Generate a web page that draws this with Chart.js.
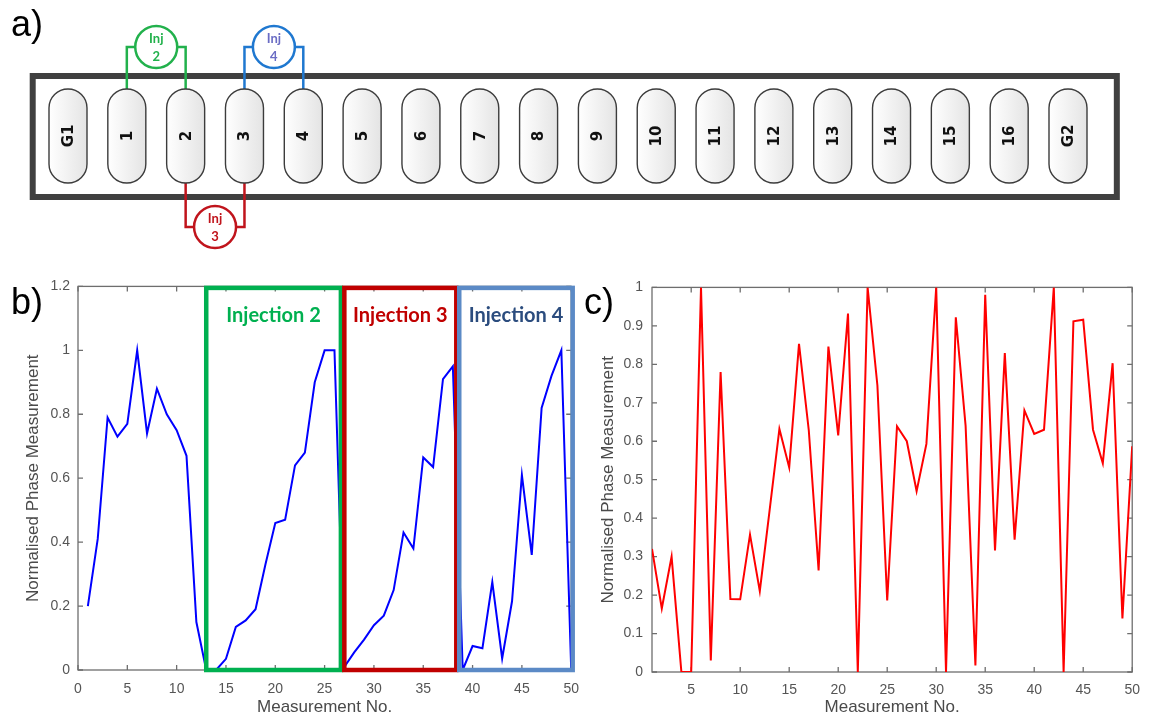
<!DOCTYPE html>
<html>
<head>
<meta charset="utf-8">
<script src="https://cdn.jsdelivr.net/npm/chart.js@4.4.1/dist/chart.umd.min.js"></script>
<style>
  html, body { margin: 0; padding: 0; background: #fff; }
  body { width: 1150px; height: 716px; position: relative; overflow: hidden; }
  canvas { position: absolute; }
  .tag { position: absolute; font-family: 'Liberation Sans', Arial, sans-serif; font-size: 36px; line-height: 36px; color: #000; z-index: 5; }
</style>
</head>
<body>
<canvas id="chip" width="1150" height="260" style="left:0;top:0"></canvas>
<canvas id="phaseB" width="590" height="446" style="left:0;top:270px"></canvas>
<canvas id="phaseC" width="570" height="446" style="left:580px;top:270px"></canvas>
<div class="tag" style="left:11px;top:6px">a)</div>
<div class="tag" style="left:11px;top:284px">b)</div>
<div class="tag" style="left:584px;top:284px">c)</div>
<script>
// ---- electrode array (panel a) ----
const electrodeLabels = ['G1','1','2','3','4','5','6','7','8','9','10','11','12','13','14','15','16','G2'];
const injectionNames = ['2', '3', '4'];
const injectionFrom = [1, 2, 3];
const injectionTo = [2, 3, 4];
const injectionSide = ['top', 'bottom', 'top'];

// ---- phase measurements (panels b and c) ----
const measurementNo = [1,2,3,4,5,6,7,8,9,10,11,12,13,14,15,16,17,18,19,20,21,22,23,24,25,
                       26,27,28,29,30,31,32,33,34,35,36,37,38,39,40,41,42,43,44,45,46,47,48,49,50];
const phaseSequential = [0.20,0.41,0.79,0.73,0.77,1.00,0.74,0.88,0.80,0.75,
                         0.67,0.15,0.00,0.00,0.035,0.135,0.155,0.19,0.33,0.46,
                         0.47,0.64,0.68,0.90,1.00,1.00,0.01,0.055,0.095,0.14,
                         0.17,0.25,0.43,0.38,0.665,0.635,0.91,0.95,0.00,0.075,
                         0.068,0.275,0.036,0.215,0.61,0.36,0.82,0.92,1.00,0.00];
const phaseShuffled = [0.32,0.165,0.30,0.00,0.00,1.00,0.03,0.78,0.19,0.189,
                       0.357,0.21,0.42,0.632,0.532,0.853,0.628,0.264,0.846,0.615,
                       0.932,0.00,1.00,0.745,0.186,0.639,0.60,0.47,0.593,1.00,
                       0.00,0.922,0.64,0.017,0.981,0.316,0.829,0.344,0.68,0.619,
                       0.63,1.00,0.00,0.912,0.916,0.63,0.543,0.803,0.139,0.587];

// injection windows along the measurement sequence
const windowLabels = ['Injection 2', 'Injection 3', 'Injection 4'];
const windowStart = [13, 27, 38.65];
const windowEnd = [26.65, 38.35, 50.15];

// axis ticks
const xTicksB = [0,5,10,15,20,25,30,35,40,45,50];
const yTicksB = [0,0.2,0.4,0.6,0.8,1,1.2];
const xTicksC = [5,10,15,20,25,30,35,40,45,50];
const yTicksC = [0,0.1,0.2,0.3,0.4,0.5,0.6,0.7,0.8,0.9,1];

// ---- styles ----
const AXIS = '#6e6e6e';
const TICK_TEXT = '#555555';
const TITLE_TEXT = '#4a4a4a';
const SANS = "'Liberation Sans', Arial, sans-serif";
const injLineColors = ['#22b14c', '#c0141c', '#1f78d0'];
const injTextColors = ['#22b14c', '#c0141c', '#6a6cc4'];
const windowColors = ['#00b050', '#c00000', '#5b8ac6'];
const windowTextColors = ['#00b050', '#c00000', '#2b4c7e'];

// ---- panel a: electrode strip with injection pairs ----
function capsule(ctx, cx, cy, w, h) {
  const r = w / 2;
  ctx.beginPath();
  ctx.moveTo(cx - r, cy - h / 2 + r);
  ctx.arc(cx, cy - h / 2 + r, r, Math.PI, 0);
  ctx.lineTo(cx + r, cy + h / 2 - r);
  ctx.arc(cx, cy + h / 2 - r, r, 0, Math.PI);
  ctx.closePath();
}

const chipPlugin = {
  id: 'chip',
  afterDatasetsDraw(chart) {
    const ctx = chart.ctx;
    const pts = chart.getDatasetMeta(0).data;
    const pitch = pts[1].x - pts[0].x;
    const cy = pts[0].y;
    const eW = 38, eH = 94;
    const eTop = cy - eH / 2, eBot = cy + eH / 2;
    ctx.save();

    // carrier frame
    ctx.strokeStyle = '#404040';
    ctx.lineWidth = 6;
    const fl = pts[0].x - 0.6 * pitch;
    const fr = pts[pts.length - 1].x + 0.83 * pitch;
    ctx.strokeRect(fl, cy - 60, fr - fl, 121);

    // injection connectors and circles
    injectionNames.forEach((name, i) => {
      const xa = pts[injectionFrom[i]].x, xb = pts[injectionTo[i]].x;
      const top = injectionSide[i] === 'top';
      const ly = top ? cy - 89 : cy + 91;
      const ey = top ? eTop : eBot;
      ctx.strokeStyle = injLineColors[i];
      ctx.lineWidth = 2.5;
      ctx.beginPath();
      ctx.moveTo(xa, ey); ctx.lineTo(xa, ly); ctx.lineTo(xb, ly); ctx.lineTo(xb, ey);
      ctx.stroke();
      const mx = (xa + xb) / 2;
      ctx.beginPath();
      ctx.arc(mx, ly, 21, 0, Math.PI * 2);
      ctx.fillStyle = '#fff';
      ctx.fill();
      ctx.stroke();
      ctx.fillStyle = injTextColors[i];
      ctx.font = "bold 13px Lato, 'Open Sans', sans-serif";
      ctx.textAlign = 'center';
      ctx.textBaseline = 'middle';
      ctx.fillText('Inj', mx, ly - 8);
      ctx.fillText(name, mx, ly + 10);
    });

    // electrodes
    pts.forEach((p, i) => {
      const g = ctx.createLinearGradient(p.x - eW / 2, 0, p.x + eW / 2, 0);
      g.addColorStop(0, '#ffffff');
      g.addColorStop(1, '#e4e4e4');
      capsule(ctx, p.x, p.y, eW, eH);
      ctx.fillStyle = g;
      ctx.fill();
      ctx.strokeStyle = '#3c3c3c';
      ctx.lineWidth = 1.4;
      ctx.stroke();
      ctx.save();
      ctx.translate(p.x, p.y);
      ctx.rotate(-Math.PI / 2);
      ctx.fillStyle = '#111';
      ctx.font = "bold 15px 'DejaVu Sans', sans-serif";
      ctx.textAlign = 'center';
      ctx.textBaseline = 'middle';
      ctx.fillText(electrodeLabels[i], 0, 1);
      ctx.restore();
    });
    ctx.restore();
  }
};

new Chart(document.getElementById('chip'), {
  type: 'scatter',
  data: { datasets: [{ data: electrodeLabels.map((l, i) => ({ x: i, y: 0 })), pointRadius: 0 }] },
  options: {
    responsive: false, animation: false, devicePixelRatio: 1, events: [],
    layout: { padding: { left: 68, right: 82, top: 12, bottom: 0 } },
    plugins: { legend: { display: false }, tooltip: { enabled: false } },
    scales: { x: { display: false, min: 0, max: 17 }, y: { display: false, min: -1, max: 1 } }
  },
  plugins: [chipPlugin]
});

// ---- panels b and c: boxed axes with inward ticks ----
const boxFrame = {
  id: 'boxFrame',
  beforeDatasetsDraw(chart) {
    const { ctx, chartArea: a, scales: { x, y } } = chart;
    const L = 5;
    ctx.save();
    ctx.strokeStyle = AXIS;
    ctx.lineWidth = 1.3;
    ctx.strokeRect(a.left, a.top, a.right - a.left, a.bottom - a.top);
    ctx.beginPath();
    x.ticks.forEach(t => {
      const p = x.getPixelForValue(t.value);
      ctx.moveTo(p, a.bottom); ctx.lineTo(p, a.bottom - L);
      ctx.moveTo(p, a.top); ctx.lineTo(p, a.top + L);
    });
    y.ticks.forEach(t => {
      const p = y.getPixelForValue(t.value);
      ctx.moveTo(a.left, p); ctx.lineTo(a.left + L, p);
      ctx.moveTo(a.right, p); ctx.lineTo(a.right - L, p);
    });
    ctx.stroke();
    ctx.restore();
  }
};

const injectionWindows = {
  id: 'injectionWindows',
  afterDatasetsDraw(chart) {
    const { ctx, scales: { x, y } } = chart;
    const top = y.getPixelForValue(1.2) + 1.5;
    const bot = y.getPixelForValue(0);
    ctx.save();
    ctx.lineWidth = 4.5;
    windowLabels.forEach((lab, i) => {
      const x0 = x.getPixelForValue(windowStart[i]);
      const x1 = x.getPixelForValue(windowEnd[i]);
      ctx.strokeStyle = windowColors[i];
      ctx.strokeRect(x0, top, x1 - x0, bot - top);
      ctx.fillStyle = windowTextColors[i];
      ctx.font = "bold 20px Lato, 'Open Sans', sans-serif";
      ctx.textAlign = 'center';
      ctx.textBaseline = 'middle';
      ctx.fillText(lab, (x0 + x1) / 2, top + 28);
    });
    ctx.restore();
  }
};

function axisOpts(o) {
  return {
    type: 'linear', min: o.min, max: o.max,
    afterBuildTicks: s => { s.ticks = o.ticks.map(v => ({ value: v })); },
    afterFit: s => { if (o.width !== undefined) s.width = o.width; if (o.height !== undefined) s.height = o.height; },
    grid: { display: false, drawTicks: false },
    border: { display: false },
    ticks: { padding: o.pad, color: TICK_TEXT, font: { family: SANS, size: 14 }, maxRotation: 0, autoSkip: false,
             callback: v => String(+Number(v).toFixed(2)) },
    title: { display: true, text: o.title, color: TITLE_TEXT,
             font: { family: SANS, size: 17, lineHeight: 1 }, padding: o.titlePad }
  };
}

function phaseChart(id, values, color, cfg, extra) {
  return new Chart(document.getElementById(id), {
    type: 'line',
    data: { datasets: [{ data: measurementNo.map((n, i) => ({ x: n, y: values[i] })),
                         borderColor: color, borderWidth: 2, pointRadius: 0, tension: 0, fill: false }] },
    options: {
      responsive: false, animation: false, devicePixelRatio: 1, events: [],
      layout: { padding: cfg.padding },
      plugins: { legend: { display: false }, tooltip: { enabled: false } },
      scales: { x: axisOpts(cfg.x), y: axisOpts(cfg.y) }
    },
    plugins: [boxFrame].concat(extra)
  });
}

phaseChart('phaseB', phaseSequential, '#0000ff', {
  padding: { left: 0, right: 17, top: 11, bottom: 0 },
  x: { min: 0, max: 50, ticks: xTicksB, height: 46, pad: 11, title: 'Measurement No.', titlePad: { top: 0, bottom: 0.5 } },
  y: { min: 0, max: 1.2, ticks: yTicksB, width: 78, pad: 8, title: 'Normalised Phase Measurement', titlePad: { top: 24.5, bottom: 0 } }
}, [injectionWindows]);

phaseChart('phaseC', phaseShuffled, '#ff0000', {
  padding: { left: 0, right: 12, top: 17, bottom: 0 },
  x: { min: 1, max: 50, ticks: xTicksC, height: 44, pad: 10, title: 'Measurement No.', titlePad: { top: 0, bottom: 0.5 } },
  y: { min: 0, max: 1, ticks: yTicksC, width: 72, pad: 9, title: 'Normalised Phase Measurement', titlePad: { top: 19.5, bottom: 0 } }
}, []);
</script>
</body>
</html>
